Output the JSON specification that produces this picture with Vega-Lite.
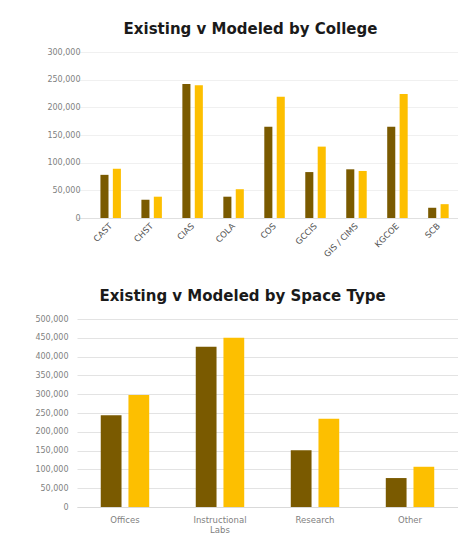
{
  "$schema": "https://vega.github.io/schema/vega-lite/v6.json",
  "background": "white",
  "padding": {"left": 5, "top": 22, "right": 0, "bottom": 0},
  "spacing": 30,
  "resolve": {"scale": {"xOffset": "independent", "x": "independent", "y": "independent"}},
  "config": {
    "view": {"stroke": null},
    "font": "DejaVu Sans",
    "title": {"font": "DejaVu Sans", "fontSize": 15, "fontWeight": "bold", "color": "#1a1a1a", "anchor": "middle", "offset": 11},
    "axis": {"labelFont": "DejaVu Sans", "labelColor": "#7f7f7f", "labelFontSize": 8, "ticks": false, "title": null}
  },
  "datasets": {
    "college": [
      {"category": "CAST", "series": "Existing", "value": 78000},
      {"category": "CAST", "series": "Modeled", "value": 89000},
      {"category": "CHST", "series": "Existing", "value": 33000},
      {"category": "CHST", "series": "Modeled", "value": 38500},
      {"category": "CIAS", "series": "Existing", "value": 242000},
      {"category": "CIAS", "series": "Modeled", "value": 240000},
      {"category": "COLA", "series": "Existing", "value": 38500},
      {"category": "COLA", "series": "Modeled", "value": 52000},
      {"category": "COS", "series": "Existing", "value": 165000},
      {"category": "COS", "series": "Modeled", "value": 219000},
      {"category": "GCCIS", "series": "Existing", "value": 83000},
      {"category": "GCCIS", "series": "Modeled", "value": 129000},
      {"category": "GIS / CIMS", "series": "Existing", "value": 88000},
      {"category": "GIS / CIMS", "series": "Modeled", "value": 85000},
      {"category": "KGCOE", "series": "Existing", "value": 165000},
      {"category": "KGCOE", "series": "Modeled", "value": 224000},
      {"category": "SCB", "series": "Existing", "value": 18500},
      {"category": "SCB", "series": "Modeled", "value": 25000}
    ],
    "space": [
      {"category": "Offices", "series": "Existing", "value": 244000},
      {"category": "Offices", "series": "Modeled", "value": 298000},
      {"category": "Instructional Labs", "series": "Existing", "value": 426000},
      {"category": "Instructional Labs", "series": "Modeled", "value": 450000},
      {"category": "Research", "series": "Existing", "value": 151000},
      {"category": "Research", "series": "Modeled", "value": 235000},
      {"category": "Other", "series": "Existing", "value": 77000},
      {"category": "Other", "series": "Modeled", "value": 107000}
    ]
  },
  "vconcat": [
    {
      "title": {"text": "Existing v Modeled by College", "dx": -17},
      "data": {"name": "college"},
      "width": 381,
      "height": 166,
      "mark": {"type": "bar"},
      "encoding": {
        "x": {
          "field": "category", "type": "nominal", "sort": null,
          "scale": {"paddingInner": 0.5, "paddingOuter": 0.4, "align": 0.715},
          "axis": {"labelAngle": -45, "labelAlign": "right", "labelBaseline": "middle", "labelColor": "#555555", "labelFontSize": 8.5, "domain": true, "domainColor": "#e0e0e0", "labelPadding": 6}
        },
        "xOffset": {"field": "series", "type": "nominal", "scale": {"paddingInner": 0.35}},
        "y": {
          "field": "value", "type": "quantitative",
          "scale": {"domain": [0, 300000]},
          "axis": {"values": [0, 50000, 100000, 150000, 200000, 250000, 300000], "format": ",.0f", "domain": false, "gridColor": "#f0f0f0", "labelPadding": 10, "offset": -13, "minExtent": 72, "maxExtent": 72}
        },
        "color": {"field": "series", "type": "nominal", "scale": {"domain": ["Existing", "Modeled"], "range": ["#7a5a00", "#fdbf00"]}, "legend": null}
      }
    },
    {
      "title": {"text": "Existing v Modeled by Space Type", "dx": -25},
      "data": {"name": "space"},
      "width": 381,
      "height": 188,
      "mark": {"type": "bar"},
      "encoding": {
        "x": {
          "field": "category", "type": "nominal", "sort": null,
          "scale": {"paddingInner": 0.49, "paddingOuter": 0.25},
          "axis": {"labelAngle": 0, "labelExpr": "datum.label == 'Instructional Labs' ? ['Instructional', 'Labs'] : datum.label", "labelFontSize": 8.5, "domain": true, "domainColor": "#d9d9d9", "labelPadding": 8}
        },
        "xOffset": {"field": "series", "type": "nominal", "scale": {"paddingInner": 0.25}},
        "y": {
          "field": "value", "type": "quantitative",
          "scale": {"domain": [0, 500000]},
          "axis": {"values": [0, 50000, 100000, 150000, 200000, 250000, 300000, 350000, 400000, 450000, 500000], "format": ",.0f", "domain": false, "gridColor": "#e3e3e3", "labelPadding": 9, "minExtent": 72, "maxExtent": 72}
        },
        "color": {"field": "series", "type": "nominal", "scale": {"domain": ["Existing", "Modeled"], "range": ["#7a5a00", "#fdbf00"]}, "legend": null}
      }
    }
  ]
}
